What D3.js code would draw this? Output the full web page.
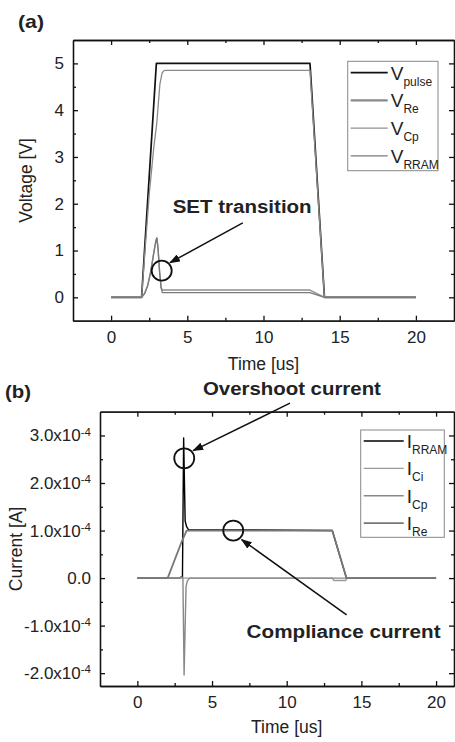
<!DOCTYPE html>
<html>
<head>
<meta charset="utf-8">
<script src="https://cdn.jsdelivr.net/npm/d3@7/dist/d3.min.js"></script>
<style>
  body { margin: 0; background: #fff; }
  svg { display: block; }
  text { font-family: "Liberation Sans", Arial, sans-serif; fill: #222; }
</style>
</head>
<body>
<div id="chart"></div>
<script>
// ---- panel (a): voltages [V] vs time [us]
const tPulse = [0, 2, 2.97, 13.05, 14, 20];
const vPulse = [0, 0, 5, 5, 0, 0];
const tRe = [0, 2, 2.5, 2.8, 3.0, 3.1, 3.2, 3.35, 3.5, 13.05, 14, 20];
const vRe = [0, 0, 2.2, 3.2, 3.73, 4.15, 4.55, 4.8, 4.85, 4.85, 0, 0];
const tNode = [0, 2.0, 2.2, 2.4, 2.6, 2.8, 2.95, 3.0, 3.08, 3.18, 3.28, 3.36, 13.05, 14, 20];
const vCp = [0, 0, 0.08, 0.25, 0.55, 0.95, 1.22, 1.27, 1.05, 0.55, 0.22, 0.155, 0.155, 0, 0];
const vRRAM = [0, 0, 0.08, 0.25, 0.55, 0.95, 1.22, 1.27, 1.05, 0.55, 0.2, 0.1, 0.1, 0, 0];

// ---- panel (b): currents [A] vs time [us]
const tIRRAM = [0, 2.85, 2.95, 3.02, 3.1, 3.2, 3.3, 3.42, 13.05, 14, 20];
const iRRAM = [0, 0, 0.03e-4, 0.02e-4, 2.95e-4, 1.2e-4, 1.08e-4, 1.02e-4, 1.0e-4, 0, 0];
const tICi = [0, 13.05, 13.15, 13.95, 14.05, 20];
const iCi = [0, 0, -0.05e-4, -0.05e-4, 0, 0];
const tICp = [0, 2.85, 2.95, 3.05, 3.13, 3.26, 3.35, 3.5, 20];
const iCp = [0, 0, 0.03e-4, 0, -2.04e-4, -0.18e-4, -0.06e-4, 0, 0];
const tIRe = [0, 2.03, 3.0, 3.3, 13.05, 14.0, 20];
const iRe = [0, 0, 0.79e-4, 1.0e-4, 1.0e-4, 0, 0];

// ticks
const timeTicks = [0, 5, 10, 15, 20];
const timeMinor = [2.5, 7.5, 12.5, 17.5];
const voltTicks = [0, 1, 2, 3, 4, 5];
const voltMinor = [0.5, 1.5, 2.5, 3.5, 4.5];
const currTicks = [-2e-4, -1e-4, 0, 1e-4, 2e-4, 3e-4];
const currMinor = [-1.5e-4, -0.5e-4, 0.5e-4, 1.5e-4, 2.5e-4];

const svg = d3.select('#chart').append('svg')
  .attr('width', 455)
  .attr('height', 742);

const defs = svg.append('defs');
defs.append('marker')
  .attr('id', 'arrow')
  .attr('markerUnits', 'userSpaceOnUse')
  .attr('markerWidth', 11)
  .attr('markerHeight', 8)
  .attr('refX', 10)
  .attr('refY', 4)
  .attr('orient', 'auto')
  .append('path')
  .attr('d', 'M0,0L11,4L0,8Z')
  .attr('fill', '#111');

function styleAxis(g) {
  g.selectAll('path, line').attr('stroke', '#111').attr('stroke-width', 1.3);
  g.selectAll('text').attr('font-size', 17).attr('fill', '#222').attr('font-family', '"Liberation Sans", Arial, sans-serif');
}

function drawPanel(p) {
  const x = d3.scaleLinear().domain(p.xDomain).range([p.left, p.right]);
  const y = d3.scaleLinear().domain(p.yDomain).range([p.bottom, p.top]);
  const g = svg.append('g');

  // bottom
  g.append('g').attr('transform', `translate(0,${p.bottom})`)
    .call(d3.axisBottom(x).tickValues(timeTicks).tickSizeInner(-5).tickSizeOuter(0).tickPadding(10))
    .call(styleAxis);
  g.append('g').attr('transform', `translate(0,${p.bottom})`)
    .call(d3.axisBottom(x).tickValues(timeMinor).tickSizeInner(-3).tickSizeOuter(0).tickFormat(''))
    .call(styleAxis);
  // top
  g.append('g').attr('transform', `translate(0,${p.top})`)
    .call(d3.axisTop(x).tickValues(timeTicks).tickSizeInner(-5).tickSizeOuter(0).tickFormat(''))
    .call(styleAxis);
  g.append('g').attr('transform', `translate(0,${p.top})`)
    .call(d3.axisTop(x).tickValues(timeMinor).tickSizeInner(-3).tickSizeOuter(0).tickFormat(''))
    .call(styleAxis);
  // left
  const left = g.append('g').attr('transform', `translate(${p.left},0)`)
    .call(d3.axisLeft(y).tickValues(p.yTicks).tickSizeInner(-5).tickSizeOuter(0).tickPadding(9).tickFormat(p.yFormat))
    .call(styleAxis);
  g.append('g').attr('transform', `translate(${p.left},0)`)
    .call(d3.axisLeft(y).tickValues(p.yMinor).tickSizeInner(-3).tickSizeOuter(0).tickFormat(''))
    .call(styleAxis);
  // right
  g.append('g').attr('transform', `translate(${p.right},0)`)
    .call(d3.axisRight(y).tickValues(p.yTicks).tickSizeInner(-5).tickSizeOuter(0).tickFormat(''))
    .call(styleAxis);
  g.append('g').attr('transform', `translate(${p.right},0)`)
    .call(d3.axisRight(y).tickValues(p.yMinor).tickSizeInner(-3).tickSizeOuter(0).tickFormat(''))
    .call(styleAxis);

  if (p.sciLabels) {
    left.selectAll('.tick text').each(function (d) {
      const t = d3.select(this);
      t.text(null);
      if (Math.abs(d) < 1e-12) { t.text('0.0'); return; }
      t.append('tspan').text((d / 1e-4).toFixed(1) + 'x10');
      t.append('tspan').attr('dy', '-0.5em').attr('font-size', 11.5).text('-4');
    });
  }

  // axis titles
  g.append('text')
    .attr('x', x(10)).attr('y', p.bottom + p.xTitleGap)
    .attr('text-anchor', 'middle').attr('font-size', 17.5)
    .text('Time [us]');
  g.append('text')
    .attr('transform', `translate(${p.yTitleX},${(p.top + p.bottom) / 2}) rotate(-90)`)
    .attr('text-anchor', 'middle').attr('font-size', 17.5)
    .text(p.yTitle);

  // panel tag
  g.append('text')
    .attr('x', p.tag[0]).attr('y', p.tag[1])
    .attr('font-size', 19).attr('font-weight', 'bold')
    .attr('textLength', 26).attr('lengthAdjust', 'spacingAndGlyphs')
    .text(p.tagText);

  // series
  const line = d3.line().x(d => x(d[0])).y(d => y(d[1]));
  p.series.forEach(s => {
    g.append('path')
      .datum(d3.zip(s.t, s.v))
      .attr('d', line)
      .attr('fill', 'none')
      .attr('stroke', s.color)
      .attr('stroke-width', s.width)
      .attr('stroke-linejoin', 'round');
  });

  // legend
  const lg = g.append('g');
  lg.append('rect')
    .attr('x', p.legend.x).attr('y', p.legend.y)
    .attr('width', p.legend.w).attr('height', p.legend.h)
    .attr('fill', '#fff').attr('stroke', '#888').attr('stroke-width', 1);
  p.series.forEach((s, i) => {
    const yy = p.legend.y + p.legend.first + i * p.legend.step;
    lg.append('line')
      .attr('x1', p.legend.x + 3).attr('x2', p.legend.x + p.legend.lineLen)
      .attr('y1', yy).attr('y2', yy)
      .attr('stroke', s.color).attr('stroke-width', s.legendWidth || s.width);
    const t = lg.append('text')
      .attr('x', p.legend.x + p.legend.lineLen + 3).attr('y', yy + 7);
    t.append('tspan').attr('font-size', 19).text(p.legend.letter);
    t.append('tspan').attr('font-size', 12).attr('dy', 6).text(s.sub);
  });

  return { x, y, g };
}

function annotate(g, txt, cx, cy, width) {
  g.append('text')
    .attr('x', cx).attr('y', cy)
    .attr('text-anchor', 'middle')
    .attr('font-size', 18).attr('font-weight', 'bold')
    .attr('textLength', width).attr('lengthAdjust', 'spacingAndGlyphs')
    .text(txt);
}
function ring(g, cx, cy) {
  g.append('circle').attr('cx', cx).attr('cy', cy).attr('r', 10)
    .attr('fill', 'none').attr('stroke', '#111').attr('stroke-width', 1.8);
}
function arrow(g, x1, y1, x2, y2) {
  g.append('line').attr('x1', x1).attr('y1', y1).attr('x2', x2).attr('y2', y2)
    .attr('stroke', '#111').attr('stroke-width', 1.5)
    .attr('marker-end', 'url(#arrow)');
}

// ---- panel (a)
const a = drawPanel({
  left: 73, right: 454, top: 40, bottom: 320.7,
  xDomain: [-2.5, 22.5], yDomain: [-0.5, 5.5],
  yTicks: voltTicks, yMinor: voltMinor, yFormat: d3.format('d'),
  yTitle: 'Voltage [V]', yTitleX: 32, xTitleGap: 49,
  tag: [18, 28], tagText: '(a)',
  series: [
    { t: tPulse, v: vPulse, color: '#111', width: 1.7, sub: 'pulse' },
    { t: tRe, v: vRe, color: '#8a8a8a', width: 1.3, legendWidth: 2.4, sub: 'Re' },
    { t: tNode, v: vCp, color: '#8f8f8f', width: 1.4, sub: 'Cp' },
    { t: tNode, v: vRRAM, color: '#7a7a7a', width: 1.3, sub: 'RRAM' }
  ],
  legend: { x: 347.7, y: 61.3, w: 90.3, h: 109.4, first: 11.4, step: 27.7, lineLen: 40, letter: 'V' }
});
annotate(a.g, 'SET transition', a.x(8.6), a.y(1.8), 139);
ring(a.g, a.x(3.32), a.y(0.57));
arrow(a.g, a.x(8.64), a.y(1.59), a.x(3.86), a.y(0.74));

// ---- panel (b)
const b = drawPanel({
  left: 100, right: 454, top: 411.7, bottom: 686,
  xDomain: [-2.5, 21.2], yDomain: [-2.27e-4, 3.5e-4],
  yTicks: currTicks, yMinor: currMinor, yFormat: d => d, sciLabels: true,
  yTitle: 'Current [A]', yTitleX: 22, xTitleGap: 47,
  tag: [5, 398], tagText: '(b)',
  series: [
    { t: tIRRAM, v: iRRAM, color: '#000', width: 1.4, sub: 'RRAM' },
    { t: tICi, v: iCi, color: '#9a9a9a', width: 1.4, sub: 'Ci' },
    { t: tICp, v: iCp, color: '#888', width: 1.4, sub: 'Cp' },
    { t: tIRe, v: iRe, color: '#777', width: 1.8, sub: 'Re' }
  ],
  legend: { x: 360.7, y: 430, w: 83.6, h: 107.3, first: 11, step: 27.4, lineLen: 43, letter: 'I' }
});
annotate(b.g, 'Overshoot current', b.x(10.35), b.y(3.85e-4), 178);
ring(b.g, b.x(3.14), b.y(2.52e-4));
arrow(b.g, b.x(10.22), b.y(3.68e-4), b.x(3.74), b.y(2.68e-4));
annotate(b.g, 'Compliance current', b.x(13.81), b.y(-1.26e-4), 194);
ring(b.g, b.x(6.42), b.y(1.0e-4));
arrow(b.g, b.x(14.01), b.y(-0.775e-4), b.x(6.98), b.y(0.81e-4));
</script>
</body>
</html>
